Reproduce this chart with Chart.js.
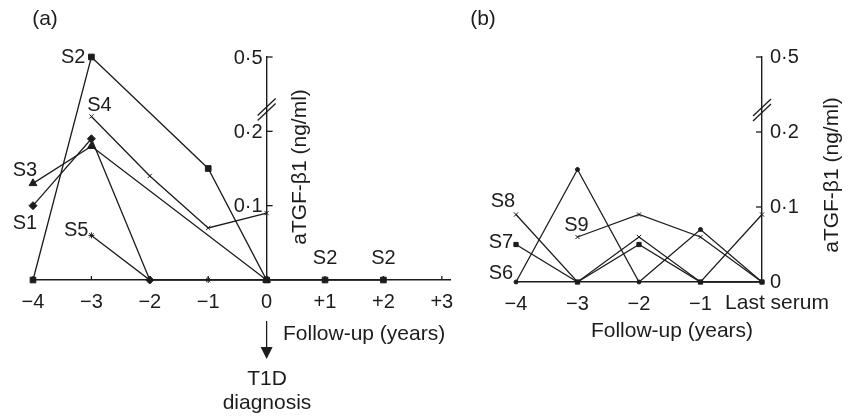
<!DOCTYPE html>
<html>
<head>
<meta charset="utf-8">
<script src="https://cdn.jsdelivr.net/npm/chart.js@4.4.1/dist/chart.umd.min.js"></script>
<style>
  html, body { margin: 0; padding: 0; background: #fff; }
  #chartA { position: absolute; left: 0; top: 0; }
  #chartB { position: absolute; left: 470px; top: 0; }
</style>
</head>
<body>
<canvas id="chartA" width="470" height="416"></canvas>
<canvas id="chartB" width="383" height="416"></canvas>
<script>
// ---- panel (a): years relative to T1D diagnosis ----
const yearsA = [-4, -3, -2, -1, 0, 1, 2];
const xTicksA = [-4, -3, -2, -1, 0, 1, 2, 3];
const s1 = [0.10, 0.19, 0, null, null, null, null];
const s2 = [0, 0.5, null, 0.15, 0, 0, 0];
const s3 = [0.13, 0.18, null, null, 0, null, null];
const s4 = [null, 0.26, 0.14, 0.07, 0.09, null, null];
const s5 = [null, 0.06, 0, 0, 0, null, null];
const yTicksA = [0.1, 0.2, 0.5];
const yTickLabelsA = ['0·1', '0·2', '0·5'];

// ---- panel (b): controls, years before last serum ----
const yearsB = [-4, -3, -2, -1, 0];
const xLabelsB = ['−4', '−3', '−2', '−1', 'Last serum'];
const s6 = [0, 0.15, 0, 0.07, 0];
const s7 = [0.05, 0, 0.05, 0, 0];
const s8 = [0.09, 0, 0.06, 0, 0.09];
const s9 = [null, 0.06, 0.09, 0.06, 0];
const yTicksB = [0, 0.1, 0.2, 0.5];
const yTickLabelsB = ['0', '0·1', '0·2', '0·5'];

const FONT = '"Liberation Sans", Arial, sans-serif';
const INK = '#1c1c1c';

// broken axis: 0.2 -> 0.5 is squeezed into the height of 0.1
function squash(v) {
    if (v == null) return null;
    return v <= 0.2 ? v : 0.2 + (v - 0.2) / 3;
}

function toPoints(xs, ys) {
    return xs.map((x, i) => ({ x: x, y: squash(ys[i]) }));
}

function dataset(label, xs, ys, marker, r) {
    return {
        label: label,
        data: toPoints(xs, ys),
        borderColor: INK,
        backgroundColor: INK,
        borderWidth: 1.3,
        pointStyle: marker,
        pointRadius: r,
        pointBorderWidth: 1,
        pointBackgroundColor: INK,
        pointBorderColor: INK,
        spanGaps: true,
        tension: 0,
        clip: false
    };
}

function tickLabel(values, labels) {
    return function(v) {
        const i = values.findIndex(t => Math.abs(squash(t) - v) < 1e-6);
        return i >= 0 ? labels[i] : '';
    };
}

function line(ctx, x1, y1, x2, y2) {
    ctx.beginPath();
    ctx.moveTo(x1, y1);
    ctx.lineTo(x2, y2);
    ctx.stroke();
}

// extra drawing: inward ticks, axis break, series names, titles
const decor = {
    id: 'decor',
    afterDraw(chart, args, o) {
        const ctx = chart.ctx;
        const xs = chart.scales.x, ys = chart.scales.y;
        const ax = xs.getPixelForValue(0);
        ctx.save();
        ctx.strokeStyle = INK;
        ctx.fillStyle = INK;
        ctx.lineWidth = 1.3;

        // y tick marks
        o.yTicks.forEach(v => {
            const py = ys.getPixelForValue(squash(v));
            if (v > 0) line(ctx, ax, py, ax + o.yTickDir * 6, py);
        });
        // y tick labels left of a mid-plot axis
        if (o.yLabels) {
            ctx.font = '20px ' + FONT;
            ctx.textAlign = 'right';
            ctx.textBaseline = 'middle';
            o.yTicks.forEach((v, i) => {
                ctx.fillText(o.yLabels[i], ax - 4, ys.getPixelForValue(squash(v)) + 1);
            });
        }
        // x tick marks (pointing up)
        o.xTicks.forEach(v => {
            const px = xs.getPixelForValue(v);
            const py = ys.getPixelForValue(0);
            line(ctx, px, py, px, py - 4);
        });
        // axis break
        const pb = ys.getPixelForValue(0.236);
        line(ctx, ax - 9, pb + 11, ax + 9, pb - 6);
        line(ctx, ax - 9, pb + 16, ax + 9, pb - 1);

        // series names next to their points
        ctx.font = '20px ' + FONT;
        ctx.textBaseline = 'middle';
        o.names.forEach(n => {
            const ds = chart.data.datasets.find(d => d.label === n.series);
            const p = ds.data[n.idx];
            const px = xs.getPixelForValue(p.x) + n.dx;
            const py = ys.getPixelForValue(p.y) + n.dy;
            ctx.textAlign = n.align || 'center';
            ctx.fillText(n.text || n.series, px, py);
        });

        // other texts
        o.texts.forEach(t => {
            ctx.font = t.size + 'px ' + FONT;
            ctx.textAlign = t.align || 'center';
            ctx.save();
            ctx.translate(t.x, t.y);
            if (t.rot) ctx.rotate(t.rot);
            ctx.fillText(t.text, 0, 0);
            ctx.restore();
        });

        if (o.arrow) {
            const a = o.arrow;
            ctx.lineWidth = 1.3;
            line(ctx, ax, a.y1, ax, a.y2);
            ctx.beginPath();
            ctx.moveTo(ax - 6, a.y2);
            ctx.lineTo(ax + 6, a.y2);
            ctx.lineTo(ax, a.y2 + 12);
            ctx.closePath();
            ctx.fill();
        }
        ctx.restore();
    }
};

const axisBorder = { display: true, color: INK, width: 1.4 };

// ---------- chart (a) ----------
new Chart(document.getElementById('chartA'), {
    type: 'line',
    data: {
        datasets: [
            dataset('S1', yearsA, s1, 'rectRot', 4),
            dataset('S2', yearsA, s2, 'rect', 4),
            dataset('S3', yearsA, s3, 'triangle', 4.5),
            dataset('S4', yearsA, s4, 'crossRot', 3),
            dataset('S5', yearsA, s5, 'star', 3)
        ]
    },
    options: {
        responsive: false,
        animation: false,
        layout: { padding: { left: 33, right: 20, top: 57, bottom: 0 } },
        plugins: {
            legend: { display: false },
            tooltip: { enabled: false },
            decor: {
                yTicks: yTicksA,
                yLabels: yTickLabelsA,
                yTickDir: 1,
                xTicks: xTicksA,
                names: [
                    { series: 'S2', idx: 1, dx: -6, dy: 0, align: 'right' },
                    { series: 'S4', idx: 1, dx: 8, dy: -11 },
                    { series: 'S3', idx: 0, dx: -8, dy: -13 },
                    { series: 'S1', idx: 0, dx: -8, dy: 18 },
                    { series: 'S5', idx: 1, dx: -3, dy: -5, align: 'right' },
                    { series: 'S2', idx: 5, dx: 0, dy: -22 },
                    { series: 'S2', idx: 6, dx: 0, dy: -22 }
                ],
                texts: [
                    { text: '(a)', x: 45, y: 19, size: 21 },
                    { text: 'aTGF-β1 (ng/ml)', x: 300, y: 167, size: 21, rot: -Math.PI / 2 },
                    { text: 'Follow-up (years)', x: 283, y: 334, size: 21, align: 'left' },
                    { text: 'T1D', x: 267, y: 379, size: 21 },
                    { text: 'diagnosis', x: 267, y: 403, size: 21 }
                ],
                arrow: { y1: 321, y2: 347 }
            }
        },
        scales: {
            x: {
                type: 'linear',
                position: 'bottom',
                min: -4,
                max: 3.14,
                afterBuildTicks: s => { s.ticks = xTicksA.map(v => ({ value: v })); },
                afterFit: s => { s.height = 136; },
                grid: { display: false, drawTicks: false },
                border: axisBorder,
                ticks: {
                    color: INK,
                    padding: 10,
                    font: { family: FONT, size: 20 },
                    callback: v => v > 0 ? '+' + v : (v < 0 ? '−' + Math.abs(v) : '0')
                }
            },
            y: {
                type: 'linear',
                position: { x: 0 },
                min: 0,
                max: 0.3,
                afterBuildTicks: s => { s.ticks = yTicksA.map(v => ({ value: squash(v) })); },
                grid: { display: false, drawTicks: false },
                border: axisBorder,
                ticks: { display: false }
            }
        }
    },
    plugins: [decor]
});

// ---------- chart (b) ----------
new Chart(document.getElementById('chartB'), {
    type: 'line',
    data: {
        datasets: [
            dataset('S6', yearsB, s6, 'circle', 2),
            dataset('S7', yearsB, s7, 'rect', 3),
            dataset('S8', yearsB, s8, 'crossRot', 3),
            dataset('S9', yearsB, s9, 'crossRot', 3)
        ]
    },
    options: {
        responsive: false,
        animation: false,
        layout: { padding: { left: 46, right: 0, top: 57, bottom: 0 } },
        plugins: {
            legend: { display: false },
            tooltip: { enabled: false },
            decor: {
                yTicks: yTicksB,
                yTickDir: -1,
                xTicks: [],
                names: [
                    { series: 'S8', idx: 0, dx: -13, dy: -13 },
                    { series: 'S7', idx: 0, dx: -15, dy: -2 },
                    { series: 'S6', idx: 0, dx: -15, dy: -9 },
                    { series: 'S9', idx: 1, dx: -1, dy: -12 }
                ],
                texts: [
                    { text: '(b)', x: 13, y: 19, size: 21 },
                    { text: 'Last serum', x: 307, y: 303, size: 21 },
                    { text: 'aTGF-β1 (ng/ml)', x: 362, y: 175, size: 21, rot: -Math.PI / 2 },
                    { text: 'Follow-up (years)', x: 202, y: 331, size: 21 }
                ]
            }
        },
        scales: {
            x: {
                type: 'linear',
                position: 'bottom',
                min: -4,
                max: 0,
                afterBuildTicks: s => { s.ticks = yearsB.map(v => ({ value: v })); },
                afterFit: s => { s.height = 134; },
                grid: { display: false, drawTicks: false },
                border: axisBorder,
                ticks: {
                    color: INK,
                    padding: 10,
                    font: { family: FONT, size: 20 },
                    callback: v => v === 0 ? '' : xLabelsB[yearsB.indexOf(v)]
                }
            },
            y: {
                type: 'linear',
                position: 'right',
                min: 0,
                max: 0.3,
                afterBuildTicks: s => { s.ticks = yTicksB.map(v => ({ value: squash(v) })); },
                afterFit: s => { s.width = 91; },
                grid: { display: false, drawTicks: false },
                border: axisBorder,
                ticks: {
                    color: INK,
                    padding: 8,
                    font: { family: FONT, size: 20 },
                    callback: tickLabel(yTicksB, yTickLabelsB)
                }
            }
        }
    },
    plugins: [decor]
});
</script>
</body>
</html>
